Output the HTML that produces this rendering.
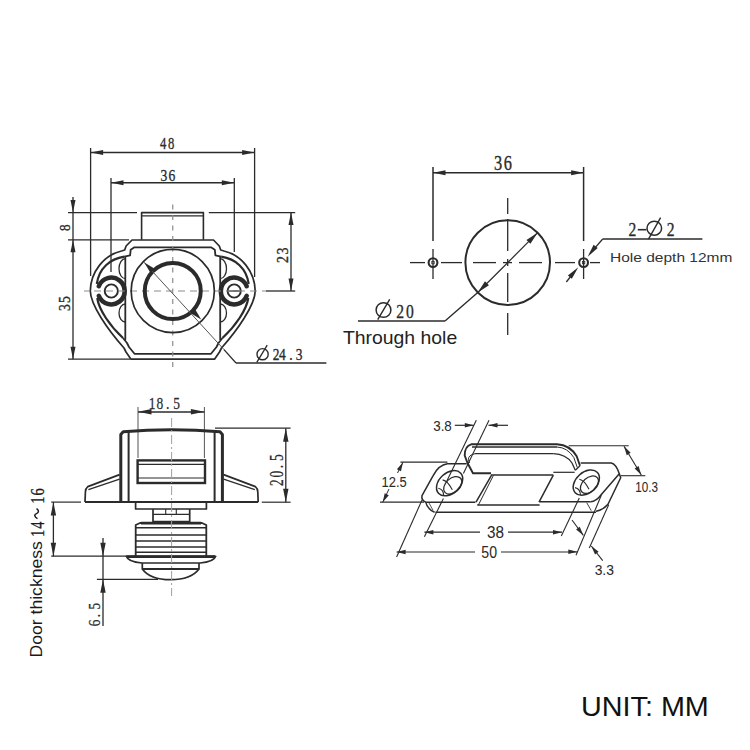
<!DOCTYPE html>
<html><head><meta charset="utf-8"><style>
html,body{margin:0;padding:0;background:#fff;}
svg{display:block;}
</style></head><body>
<svg width="750" height="750" viewBox="0 0 750 750">
<rect width="750" height="750" fill="#fff"/>
<line x1="90.60" y1="148.00" x2="90.60" y2="276.00" stroke="#2b2b2b" stroke-width="1.3" />
<line x1="254.60" y1="148.00" x2="254.60" y2="277.00" stroke="#2b2b2b" stroke-width="1.3" />
<line x1="90.60" y1="152.60" x2="254.60" y2="152.60" stroke="#2b2b2b" stroke-width="1.5" />
<polygon points="90.60,152.60 103.10,150.10 103.10,155.10" fill="#2b2b2b"/>
<polygon points="254.60,152.60 242.10,155.10 242.10,150.10" fill="#2b2b2b"/>
<text x="0" y="0" transform="translate(163.2 149.4) scale(0.8 1)" font-family="Liberation Serif" font-size="15.8" font-weight="normal" fill="#2b2b2b" text-anchor="middle" stroke="#2b2b2b" stroke-width="0.35" >4</text>
<text x="0" y="0" transform="translate(171.2 149.4) scale(0.8 1)" font-family="Liberation Serif" font-size="15.8" font-weight="normal" fill="#2b2b2b" text-anchor="middle" stroke="#2b2b2b" stroke-width="0.35" >8</text>
<line x1="111.00" y1="178.00" x2="111.00" y2="272.00" stroke="#2b2b2b" stroke-width="1.3" />
<line x1="234.30" y1="178.00" x2="234.30" y2="252.00" stroke="#2b2b2b" stroke-width="1.3" />
<line x1="111.00" y1="182.80" x2="234.30" y2="182.80" stroke="#2b2b2b" stroke-width="1.5" />
<polygon points="111.00,182.80 123.50,180.30 123.50,185.30" fill="#2b2b2b"/>
<polygon points="234.30,182.80 221.80,185.30 221.80,180.30" fill="#2b2b2b"/>
<text x="0" y="0" transform="translate(164 180.7) scale(0.8 1)" font-family="Liberation Serif" font-size="17" font-weight="normal" fill="#2b2b2b" text-anchor="middle" stroke="#2b2b2b" stroke-width="0.35" >3</text>
<text x="0" y="0" transform="translate(171.9 180.7) scale(0.8 1)" font-family="Liberation Serif" font-size="17" font-weight="normal" fill="#2b2b2b" text-anchor="middle" stroke="#2b2b2b" stroke-width="0.35" >6</text>
<line x1="68.00" y1="212.60" x2="137.00" y2="212.60" stroke="#2b2b2b" stroke-width="1.3" />
<line x1="208.80" y1="212.60" x2="295.20" y2="212.60" stroke="#2b2b2b" stroke-width="1.3" />
<line x1="68.00" y1="239.80" x2="129.00" y2="239.80" stroke="#2b2b2b" stroke-width="1.3" />
<line x1="68.00" y1="359.20" x2="130.00" y2="359.20" stroke="#2b2b2b" stroke-width="1.3" />
<line x1="266.00" y1="291.00" x2="295.20" y2="291.00" stroke="#2b2b2b" stroke-width="1.3" />
<line x1="73.00" y1="197.00" x2="73.00" y2="359.20" stroke="#2b2b2b" stroke-width="1.3" />
<polygon points="73.00,212.60 70.50,200.10 75.50,200.10" fill="#2b2b2b"/>
<polygon points="73.00,239.80 75.50,252.30 70.50,252.30" fill="#2b2b2b"/>
<polygon points="73.00,359.20 70.50,346.70 75.50,346.70" fill="#2b2b2b"/>
<text x="0" y="0" transform="translate(69.8 227.6) rotate(-90) scale(0.85 1)" font-family="Liberation Serif" font-size="15.5" font-weight="normal" fill="#2b2b2b" text-anchor="middle" stroke="#2b2b2b" stroke-width="0.35" >8</text>
<text x="0" y="0" transform="translate(70.4 307.6) rotate(-90) scale(0.8 1)" font-family="Liberation Serif" font-size="17" font-weight="normal" fill="#2b2b2b" text-anchor="middle" stroke="#2b2b2b" stroke-width="0.35" >3</text>
<text x="0" y="0" transform="translate(70.4 299.6) rotate(-90) scale(0.8 1)" font-family="Liberation Serif" font-size="17" font-weight="normal" fill="#2b2b2b" text-anchor="middle" stroke="#2b2b2b" stroke-width="0.35" >5</text>
<line x1="291.00" y1="212.60" x2="291.00" y2="291.00" stroke="#2b2b2b" stroke-width="1.3" />
<polygon points="291.00,212.60 293.50,225.10 288.50,225.10" fill="#2b2b2b"/>
<polygon points="291.00,291.00 288.50,278.50 293.50,278.50" fill="#2b2b2b"/>
<text x="0" y="0" transform="translate(287.6 259.4) rotate(-90) scale(0.8 1)" font-family="Liberation Serif" font-size="17.5" font-weight="normal" fill="#2b2b2b" text-anchor="middle" stroke="#2b2b2b" stroke-width="0.35" >2</text>
<text x="0" y="0" transform="translate(287.6 251.1) rotate(-90) scale(0.8 1)" font-family="Liberation Serif" font-size="17.5" font-weight="normal" fill="#2b2b2b" text-anchor="middle" stroke="#2b2b2b" stroke-width="0.35" >3</text>
<polyline points="141.60,239.80 141.60,212.60 203.40,212.60 203.40,239.80" fill="none" stroke="#2b2b2b" stroke-width="1.6" stroke-linejoin="round" />
<line x1="141.60" y1="215.80" x2="203.40" y2="215.80" stroke="#2b2b2b" stroke-width="1.2" />
<path d="M 132 240 L 213.5 240 L 219.3 246 L 220.7 250 L 224 251 C 241.5 255, 255 272, 255.2 291 C 255 305, 237.5 330, 221.5 348 L 219.5 352 L 214.5 359.2 L 131 359.2 L 126 352 L 124 348 C 108 330, 90.5 305, 90.3 291 C 90.5 272, 104 255, 121.5 251 L 124.7 250 L 126.1 246 Z" fill="none" stroke="#2b2b2b" stroke-width="1.7" stroke-linejoin="round" />
<path d="M 124.3 256.7 L 130.1 255.3 L 130.7 249.7 L 134.4 247.3 L 211 247.3 L 214.8 249.7 L 215.4 255.3 L 221.2 256.7" fill="none" stroke="#2b2b2b" stroke-width="1.8" stroke-linejoin="round" />
<path d="M 123 338 L 127 343 L 129 347 L 134.5 353.8 L 211 353.8 L 216.5 347 L 218.5 343 L 222.5 338" fill="none" stroke="#2b2b2b" stroke-width="1.8" stroke-linejoin="round" />
<path d="M 124.3 256.7 C 110 259, 99 268, 96.8 284" fill="none" stroke="#2b2b2b" stroke-width="2.2" stroke-linejoin="round" />
<path d="M 97.2 298 C 99 310, 110 326, 123 338" fill="none" stroke="#2b2b2b" stroke-width="2.2" stroke-linejoin="round" />
<path d="M 221.2 256.7 C 235.5 259, 246.5 268, 248.7 284" fill="none" stroke="#2b2b2b" stroke-width="2.2" stroke-linejoin="round" />
<path d="M 248.3 298 C 246.5 310, 235.5 326, 222.5 338" fill="none" stroke="#2b2b2b" stroke-width="2.2" stroke-linejoin="round" />
<line x1="125.30" y1="256.00" x2="125.30" y2="340.00" stroke="#2b2b2b" stroke-width="1.8" />
<line x1="220.20" y1="256.00" x2="220.20" y2="340.00" stroke="#2b2b2b" stroke-width="1.8" />
<path d="M 125.3 258.7 A 6.3 10 0 0 0 125.3 278.7" fill="none" stroke="#2b2b2b" stroke-width="1.3" stroke-linejoin="round" />
<path d="M 220.2 258.7 A 6.3 10 0 0 1 220.2 278.7" fill="none" stroke="#2b2b2b" stroke-width="1.3" stroke-linejoin="round" />
<path d="M 125.3 304 A 6.3 9 0 0 0 125.3 322" fill="none" stroke="#2b2b2b" stroke-width="1.3" stroke-linejoin="round" />
<path d="M 220.2 304 A 6.3 9 0 0 1 220.2 322" fill="none" stroke="#2b2b2b" stroke-width="1.3" stroke-linejoin="round" />
<path d="M 98.79 286.20 A 13.4 13.4 0 1 1 98.79 295.80" fill="none" stroke="#2b2b2b" stroke-width="4.6" stroke-linejoin="round" stroke-linecap="round"/>
<path d="M 246.71 295.80 A 13.4 13.4 0 1 1 246.71 286.20" fill="none" stroke="#2b2b2b" stroke-width="4.6" stroke-linejoin="round" stroke-linecap="round"/>
<circle cx="111.30" cy="291.00" r="6.6" fill="none" stroke="#2b2b2b" stroke-width="1.9" />
<circle cx="234.20" cy="291.00" r="6.6" fill="none" stroke="#2b2b2b" stroke-width="1.9" />
<line x1="228.50" y1="291.00" x2="240.00" y2="291.00" stroke="#2b2b2b" stroke-width="1.3" />
<line x1="172.75" y1="204.50" x2="172.75" y2="372.00" stroke="#8c8c8c" stroke-width="1.2" stroke-dasharray="5 5.5"/>
<line x1="84.00" y1="291.00" x2="266.00" y2="291.00" stroke="#8c8c8c" stroke-width="1.2" stroke-dasharray="7 5" stroke-dashoffset="2"/>
<circle cx="172.75" cy="291.00" r="41.6" fill="none" stroke="#2b2b2b" stroke-width="1.7" />
<circle cx="172.75" cy="291.00" r="28" fill="none" stroke="#2b2b2b" stroke-width="4" />
<line x1="143.76" y1="262.01" x2="224.00" y2="349.60" stroke="#555" stroke-width="1.0" />
<line x1="224.00" y1="349.60" x2="236.00" y2="363.00" stroke="#2b2b2b" stroke-width="1.3" />
<line x1="236.00" y1="363.00" x2="326.40" y2="363.00" stroke="#2b2b2b" stroke-width="1.4" />
<polygon points="144.32,262.57 150.48,272.97 154.72,268.73" fill="#2b2b2b"/>
<polygon points="201.18,319.43 190.78,313.27 195.02,309.03" fill="#2b2b2b"/>
<ellipse cx="262.6" cy="354.2" rx="5.6" ry="5.6" fill="none" stroke="#2b2b2b" stroke-width="1.4"/>
<line x1="256.80" y1="362.40" x2="267.20" y2="345.20" stroke="#2b2b2b" stroke-width="1.3" />
<text x="0" y="0" transform="translate(276 360.4) scale(0.8 1)" font-family="Liberation Serif" font-size="16.8" font-weight="normal" fill="#2b2b2b" text-anchor="middle" stroke="#2b2b2b" stroke-width="0.35" >2</text>
<text x="0" y="0" transform="translate(282.4 360.4) scale(0.8 1)" font-family="Liberation Serif" font-size="16.8" font-weight="normal" fill="#2b2b2b" text-anchor="middle" stroke="#2b2b2b" stroke-width="0.35" >4</text>
<text x="0" y="0" transform="translate(291 360.4) scale(0.8 1)" font-family="Liberation Serif" font-size="16.8" font-weight="normal" fill="#2b2b2b" text-anchor="middle" stroke="#2b2b2b" stroke-width="0.35" >.</text>
<text x="0" y="0" transform="translate(299.2 360.4) scale(0.8 1)" font-family="Liberation Serif" font-size="16.8" font-weight="normal" fill="#2b2b2b" text-anchor="middle" stroke="#2b2b2b" stroke-width="0.35" >3</text>
<line x1="433.00" y1="167.00" x2="433.00" y2="241.00" stroke="#2b2b2b" stroke-width="1.5" />
<line x1="583.60" y1="167.00" x2="583.60" y2="241.00" stroke="#2b2b2b" stroke-width="1.5" />
<line x1="433.00" y1="172.80" x2="583.60" y2="172.80" stroke="#2b2b2b" stroke-width="1.5" />
<polygon points="433.00,172.80 445.50,170.30 445.50,175.30" fill="#2b2b2b"/>
<polygon points="583.60,172.80 571.10,175.30 571.10,170.30" fill="#2b2b2b"/>
<text x="0" y="0" transform="translate(498 170.3) scale(0.78 1)" font-family="Liberation Serif" font-size="21" font-weight="normal" fill="#2b2b2b" text-anchor="middle" stroke="#2b2b2b" stroke-width="0.35" >3</text>
<text x="0" y="0" transform="translate(507.8 170.3) scale(0.78 1)" font-family="Liberation Serif" font-size="21" font-weight="normal" fill="#2b2b2b" text-anchor="middle" stroke="#2b2b2b" stroke-width="0.35" >6</text>
<line x1="433.00" y1="249.00" x2="433.00" y2="279.00" stroke="#2b2b2b" stroke-width="1.3" />
<line x1="583.60" y1="249.00" x2="583.60" y2="279.00" stroke="#2b2b2b" stroke-width="1.3" />
<line x1="410.00" y1="262.60" x2="425.00" y2="262.60" stroke="#2b2b2b" stroke-width="1.3" />
<line x1="441.00" y1="262.60" x2="462.00" y2="262.60" stroke="#2b2b2b" stroke-width="1.3" />
<line x1="473.00" y1="262.60" x2="496.00" y2="262.60" stroke="#2b2b2b" stroke-width="1.3" />
<line x1="503.00" y1="262.60" x2="512.00" y2="262.60" stroke="#2b2b2b" stroke-width="1.3" />
<line x1="519.00" y1="262.60" x2="542.00" y2="262.60" stroke="#2b2b2b" stroke-width="1.3" />
<line x1="555.00" y1="262.60" x2="575.00" y2="262.60" stroke="#2b2b2b" stroke-width="1.3" />
<line x1="590.00" y1="262.60" x2="600.00" y2="262.60" stroke="#2b2b2b" stroke-width="1.3" />
<line x1="507.70" y1="198.00" x2="507.70" y2="214.00" stroke="#2b2b2b" stroke-width="1.3" />
<line x1="507.70" y1="219.00" x2="507.70" y2="251.00" stroke="#2b2b2b" stroke-width="1.3" />
<line x1="507.70" y1="259.00" x2="507.70" y2="266.00" stroke="#2b2b2b" stroke-width="1.3" />
<line x1="507.70" y1="273.00" x2="507.70" y2="302.00" stroke="#2b2b2b" stroke-width="1.3" />
<line x1="507.70" y1="313.00" x2="507.70" y2="335.00" stroke="#2b2b2b" stroke-width="1.3" />
<circle cx="507.70" cy="262.60" r="42.3" fill="none" stroke="#2b2b2b" stroke-width="2.0" />
<circle cx="433.00" cy="262.60" r="4.4" fill="none" stroke="#2b2b2b" stroke-width="2.1" />
<circle cx="583.60" cy="262.60" r="4.4" fill="none" stroke="#2b2b2b" stroke-width="2.1" />
<rect x="431.8" y="261.4" width="2.4" height="2.4" fill="none" stroke="#2b2b2b" stroke-width="0.8"/>
<rect x="582.4" y="261.4" width="2.4" height="2.4" fill="none" stroke="#2b2b2b" stroke-width="0.8"/>
<line x1="477.79" y1="292.51" x2="537.61" y2="232.69" stroke="#2b2b2b" stroke-width="1.2" />
<polygon points="477.79,292.51 485.00,281.34 488.96,285.30" fill="#2b2b2b"/>
<polygon points="537.61,232.69 530.40,243.86 526.44,239.90" fill="#2b2b2b"/>
<line x1="477.79" y1="292.51" x2="445.00" y2="321.00" stroke="#2b2b2b" stroke-width="1.4" />
<line x1="445.00" y1="321.00" x2="358.00" y2="321.00" stroke="#2b2b2b" stroke-width="1.6" />
<ellipse cx="383.5" cy="310" rx="7.4" ry="7.3" fill="none" stroke="#2b2b2b" stroke-width="1.5"/>
<line x1="377.70" y1="319.70" x2="389.70" y2="299.30" stroke="#2b2b2b" stroke-width="1.4" />
<text x="0" y="0" transform="translate(400.2 317.7) scale(0.8 1)" font-family="Liberation Serif" font-size="19.5" font-weight="normal" fill="#2b2b2b" text-anchor="middle" stroke="#2b2b2b" stroke-width="0.35" >2</text>
<text x="0" y="0" transform="translate(409.8 317.7) scale(0.8 1)" font-family="Liberation Serif" font-size="19.5" font-weight="normal" fill="#2b2b2b" text-anchor="middle" stroke="#2b2b2b" stroke-width="0.35" >0</text>
<text x="342.9" y="343.9" font-family="Liberation Sans" font-size="19" font-weight="normal" fill="#222" text-anchor="start" textLength="114.30" lengthAdjust="spacingAndGlyphs" >Through hole</text>
<polygon points="587.70,256.70 593.59,244.82 597.70,248.00" fill="#2b2b2b"/>
<line x1="590.00" y1="253.60" x2="602.70" y2="239.00" stroke="#2b2b2b" stroke-width="1.3" />
<line x1="602.70" y1="239.00" x2="702.40" y2="239.00" stroke="#2b2b2b" stroke-width="1.6" />
<polygon points="578.30,267.30 571.83,278.87 567.87,275.49" fill="#2b2b2b"/>
<line x1="575.00" y1="271.00" x2="566.30" y2="282.00" stroke="#2b2b2b" stroke-width="1.3" />
<text x="0" y="0" transform="translate(632.5 235.5) scale(0.8 1)" font-family="Liberation Serif" font-size="19.5" font-weight="normal" fill="#2b2b2b" text-anchor="middle" stroke="#2b2b2b" stroke-width="0.35" >2</text>
<line x1="637.80" y1="229.70" x2="646.30" y2="229.70" stroke="#2b2b2b" stroke-width="1.6" />
<ellipse cx="654.3" cy="228.2" rx="7.3" ry="7" fill="none" stroke="#2b2b2b" stroke-width="1.5"/>
<line x1="648.50" y1="239.20" x2="660.60" y2="217.60" stroke="#2b2b2b" stroke-width="1.4" />
<text x="0" y="0" transform="translate(670.6 235.5) scale(0.8 1)" font-family="Liberation Serif" font-size="19.5" font-weight="normal" fill="#2b2b2b" text-anchor="middle" stroke="#2b2b2b" stroke-width="0.35" >2</text>
<text x="610" y="262" font-family="Liberation Sans" font-size="13.4" font-weight="normal" fill="#333" text-anchor="start" textLength="122.40" lengthAdjust="spacingAndGlyphs" >Hole depth 12mm</text>
<line x1="138.00" y1="407.00" x2="138.00" y2="458.00" stroke="#555" stroke-width="1.0" />
<line x1="204.40" y1="407.00" x2="204.40" y2="458.00" stroke="#555" stroke-width="1.0" />
<line x1="138.00" y1="412.00" x2="204.40" y2="412.00" stroke="#2b2b2b" stroke-width="1.3" />
<polygon points="138.00,411.80 151.50,409.10 151.50,414.50" fill="#2b2b2b"/>
<polygon points="204.40,411.80 190.90,414.50 190.90,409.10" fill="#2b2b2b"/>
<text x="0" y="0" transform="translate(152 408.8) scale(0.8 1)" font-family="Liberation Serif" font-size="16.8" font-weight="normal" fill="#2b2b2b" text-anchor="middle" stroke="#2b2b2b" stroke-width="0.25" >1</text>
<text x="0" y="0" transform="translate(159.8 408.8) scale(0.8 1)" font-family="Liberation Serif" font-size="16.8" font-weight="normal" fill="#2b2b2b" text-anchor="middle" stroke="#2b2b2b" stroke-width="0.25" >8</text>
<text x="0" y="0" transform="translate(167.6 408.8) scale(0.8 1)" font-family="Liberation Serif" font-size="16.8" font-weight="normal" fill="#2b2b2b" text-anchor="middle" stroke="#2b2b2b" stroke-width="0.25" >.</text>
<text x="0" y="0" transform="translate(176.6 408.8) scale(0.8 1)" font-family="Liberation Serif" font-size="16.8" font-weight="normal" fill="#2b2b2b" text-anchor="middle" stroke="#2b2b2b" stroke-width="0.25" >5</text>
<path d="M 120.8 502 L 120.8 434.5 L 123.2 431.8 Q 171.6 427.5 220 431.8 L 222.4 434.5 L 222.4 502" fill="none" stroke="#2b2b2b" stroke-width="3.0" stroke-linejoin="round" />
<line x1="128.60" y1="432.00" x2="128.60" y2="502.00" stroke="#2b2b2b" stroke-width="2.0" />
<line x1="214.60" y1="432.00" x2="214.60" y2="502.00" stroke="#2b2b2b" stroke-width="2.0" />
<rect x="137.6" y="460.4" width="67.4" height="22.6" fill="none" stroke="#2b2b2b" stroke-width="2.4"/>
<line x1="137.60" y1="464.40" x2="205.00" y2="464.40" stroke="#2b2b2b" stroke-width="1.2" />
<line x1="137.60" y1="478.00" x2="205.00" y2="478.00" stroke="#2b2b2b" stroke-width="1.2" />
<path d="M 119.6 474.6 L 87.8 486.6 Q 85.4 488.5 85.4 492 L 85 502" fill="none" stroke="#2b2b2b" stroke-width="1.7" stroke-linejoin="round" />
<line x1="119.60" y1="479.20" x2="88.40" y2="489.60" stroke="#2b2b2b" stroke-width="1.3" />
<path d="M 223.6 474.6 L 255.4 486.6 Q 257.8 488.5 257.8 492 L 258.2 502" fill="none" stroke="#2b2b2b" stroke-width="1.7" stroke-linejoin="round" />
<line x1="223.60" y1="479.20" x2="254.80" y2="489.60" stroke="#2b2b2b" stroke-width="1.3" />
<line x1="85.00" y1="502.10" x2="258.20" y2="502.10" stroke="#2b2b2b" stroke-width="2.0" />
<line x1="215.00" y1="428.20" x2="290.60" y2="428.20" stroke="#2b2b2b" stroke-width="1.2" />
<line x1="261.80" y1="502.20" x2="290.60" y2="502.20" stroke="#2b2b2b" stroke-width="1.2" />
<line x1="285.80" y1="428.20" x2="285.80" y2="502.20" stroke="#2b2b2b" stroke-width="1.3" />
<polygon points="285.80,428.20 288.50,441.70 283.10,441.70" fill="#2b2b2b"/>
<polygon points="285.80,502.20 283.10,488.70 288.50,488.70" fill="#2b2b2b"/>
<text x="0" y="0" transform="translate(282.6 482.7) rotate(-90) scale(0.75 1)" font-family="Liberation Serif" font-size="17.8" font-weight="normal" fill="#2b2b2b" text-anchor="middle" stroke="#2b2b2b" stroke-width="0.25" >2</text>
<text x="0" y="0" transform="translate(282.6 474.1) rotate(-90) scale(0.75 1)" font-family="Liberation Serif" font-size="17.8" font-weight="normal" fill="#2b2b2b" text-anchor="middle" stroke="#2b2b2b" stroke-width="0.25" >0</text>
<text x="0" y="0" transform="translate(282.6 466.7) rotate(-90) scale(0.75 1)" font-family="Liberation Serif" font-size="17.8" font-weight="normal" fill="#2b2b2b" text-anchor="middle" stroke="#2b2b2b" stroke-width="0.25" >.</text>
<text x="0" y="0" transform="translate(282.6 457.6) rotate(-90) scale(0.75 1)" font-family="Liberation Serif" font-size="17.8" font-weight="normal" fill="#2b2b2b" text-anchor="middle" stroke="#2b2b2b" stroke-width="0.25" >5</text>
<polyline points="135.60,502.00 135.60,509.00 206.40,509.00 206.40,502.00" fill="none" stroke="#2b2b2b" stroke-width="1.7" stroke-linejoin="round" />
<polyline points="153.00,509.00 153.00,521.70 189.70,521.70 189.70,509.00" fill="none" stroke="#2b2b2b" stroke-width="1.7" stroke-linejoin="round" />
<line x1="153.00" y1="514.30" x2="189.70" y2="514.30" stroke="#2b2b2b" stroke-width="1.2" />
<line x1="165.70" y1="509.00" x2="165.70" y2="514.30" stroke="#2b2b2b" stroke-width="1.1" />
<line x1="176.30" y1="509.00" x2="176.30" y2="514.30" stroke="#2b2b2b" stroke-width="1.1" />
<polyline points="135.70,556.00 135.70,525.00 140.00,523.00 202.00,523.00 206.30,525.00 206.30,556.00" fill="none" stroke="#2b2b2b" stroke-width="1.8" stroke-linejoin="round" />
<line x1="141.00" y1="523.20" x2="201.00" y2="523.20" stroke="#2b2b2b" stroke-width="2.8" />
<line x1="135.70" y1="527.70" x2="206.30" y2="527.70" stroke="#2b2b2b" stroke-width="1.5" />
<line x1="135.70" y1="535.00" x2="206.30" y2="535.00" stroke="#2b2b2b" stroke-width="1.5" />
<line x1="135.70" y1="541.00" x2="206.30" y2="541.00" stroke="#2b2b2b" stroke-width="1.5" />
<line x1="135.70" y1="547.00" x2="206.30" y2="547.00" stroke="#2b2b2b" stroke-width="1.5" />
<line x1="135.70" y1="552.30" x2="206.30" y2="552.30" stroke="#2b2b2b" stroke-width="1.5" />
<path d="M 126.3 556.3 L 215.7 556.3 Q 214 562 200 563 L 142 563 Q 128 562 126.3 556.3 Z" fill="none" stroke="#2b2b2b" stroke-width="1.7" stroke-linejoin="round" />
<line x1="127.00" y1="556.60" x2="215.00" y2="556.60" stroke="#2b2b2b" stroke-width="2.8" />
<polyline points="142.30,563.00 142.30,569.00 199.00,569.00 199.00,563.00" fill="none" stroke="#2b2b2b" stroke-width="1.7" stroke-linejoin="round" />
<line x1="142.30" y1="569.00" x2="199.00" y2="569.00" stroke="#2b2b2b" stroke-width="2.2" />
<path d="M 142.3 569 Q 150 579.7 170.6 579.7 Q 191 579.7 199 569" fill="none" stroke="#2b2b2b" stroke-width="1.7" stroke-linejoin="round" />
<line x1="171.60" y1="418.00" x2="171.60" y2="596.00" stroke="#a0a0a0" stroke-width="1.0" stroke-dasharray="9 3 2 3"/>
<line x1="51.20" y1="556.20" x2="127.00" y2="556.20" stroke="#2b2b2b" stroke-width="1.2" />
<line x1="96.90" y1="579.30" x2="158.00" y2="579.30" stroke="#2b2b2b" stroke-width="1.2" />
<line x1="103.00" y1="538.00" x2="103.00" y2="626.00" stroke="#2b2b2b" stroke-width="1.3" />
<polygon points="103.00,556.20 100.30,542.70 105.70,542.70" fill="#2b2b2b"/>
<polygon points="103.00,579.30 105.70,592.80 100.30,592.80" fill="#2b2b2b"/>
<text x="0" y="0" transform="translate(100 623) rotate(-90) scale(0.75 1)" font-family="Liberation Serif" font-size="17.5" font-weight="normal" fill="#2b2b2b" text-anchor="middle" stroke="#2b2b2b" stroke-width="0.25" >6</text>
<text x="0" y="0" transform="translate(100 615.5) rotate(-90) scale(0.75 1)" font-family="Liberation Serif" font-size="17.5" font-weight="normal" fill="#2b2b2b" text-anchor="middle" stroke="#2b2b2b" stroke-width="0.25" >.</text>
<text x="0" y="0" transform="translate(100 606.2) rotate(-90) scale(0.75 1)" font-family="Liberation Serif" font-size="17.5" font-weight="normal" fill="#2b2b2b" text-anchor="middle" stroke="#2b2b2b" stroke-width="0.25" >5</text>
<line x1="51.20" y1="502.10" x2="81.00" y2="502.10" stroke="#2b2b2b" stroke-width="1.2" />
<line x1="53.40" y1="502.10" x2="53.40" y2="556.20" stroke="#2b2b2b" stroke-width="1.3" />
<polygon points="53.40,502.10 56.10,515.60 50.70,515.60" fill="#2b2b2b"/>
<polygon points="53.40,556.20 50.70,542.70 56.10,542.70" fill="#2b2b2b"/>
<text x="0" y="0" transform="translate(42.2 657.4) rotate(-90)" font-family="Liberation Sans" font-size="16.5" font-weight="normal" fill="#1a1a1a" text-anchor="start" textLength="116.20" lengthAdjust="spacingAndGlyphs" >Door thickness</text>
<text x="0" y="0" transform="translate(43.8 533.4) rotate(-90) scale(0.78 1)" font-family="Liberation Serif" font-size="18.5" font-weight="normal" fill="#1a1a1a" text-anchor="middle" stroke="#1a1a1a" stroke-width="0.3" >1</text>
<text x="0" y="0" transform="translate(43.8 525.2) rotate(-90) scale(0.78 1)" font-family="Liberation Serif" font-size="18.5" font-weight="normal" fill="#1a1a1a" text-anchor="middle" stroke="#1a1a1a" stroke-width="0.3" >4</text>
<text x="0" y="0" transform="translate(43.8 500.2) rotate(-90) scale(0.78 1)" font-family="Liberation Serif" font-size="18.5" font-weight="normal" fill="#1a1a1a" text-anchor="middle" stroke="#1a1a1a" stroke-width="0.3" >1</text>
<text x="0" y="0" transform="translate(43.8 491.8) rotate(-90) scale(0.78 1)" font-family="Liberation Serif" font-size="18.5" font-weight="normal" fill="#1a1a1a" text-anchor="middle" stroke="#1a1a1a" stroke-width="0.3" >6</text>
<path d="M 37.5 518.6 C 34.5 517, 33.8 514.5, 36.5 513.6 C 39.2 512.7, 39 510, 36.5 508.6" fill="none" stroke="#1a1a1a" stroke-width="1.5" stroke-linejoin="round" />
<text x="442.5" y="431" font-family="Liberation Sans" font-size="15" font-weight="normal" fill="#2a2a2a" text-anchor="middle" textLength="18.60" lengthAdjust="spacingAndGlyphs" stroke="#2a2a2a" stroke-width="0.05" >3.8</text>
<line x1="454.80" y1="425.30" x2="473.80" y2="425.30" stroke="#2b2b2b" stroke-width="1.2" />
<polygon points="473.80,425.30 464.80,427.60 464.80,423.00" fill="#2b2b2b"/>
<line x1="488.50" y1="425.30" x2="508.00" y2="425.30" stroke="#2b2b2b" stroke-width="1.2" />
<polygon points="488.50,425.30 497.50,423.00 497.50,427.60" fill="#2b2b2b"/>
<line x1="476.30" y1="420.30" x2="446.60" y2="481.40" stroke="#2b2b2b" stroke-width="1.1" />
<line x1="489.00" y1="420.30" x2="463.40" y2="473.40" stroke="#2b2b2b" stroke-width="1.1" />
<line x1="400.40" y1="462.20" x2="447.40" y2="462.20" stroke="#2b2b2b" stroke-width="1.2" />
<line x1="380.00" y1="502.20" x2="424.00" y2="502.20" stroke="#2b2b2b" stroke-width="1.2" />
<line x1="403.00" y1="462.20" x2="397.50" y2="473.00" stroke="#2b2b2b" stroke-width="1.0" />
<line x1="389.00" y1="489.00" x2="382.70" y2="502.20" stroke="#2b2b2b" stroke-width="1.0" />
<polygon points="403.00,462.20 400.99,471.27 396.89,469.19" fill="#2b2b2b"/>
<polygon points="382.70,502.20 384.71,493.13 388.81,495.21" fill="#2b2b2b"/>
<text x="394.2" y="486.8" font-family="Liberation Sans" font-size="15" font-weight="normal" fill="#2a2a2a" text-anchor="middle" textLength="25.20" lengthAdjust="spacingAndGlyphs" stroke="#2a2a2a" stroke-width="0.05" >12.5</text>
<path d="M 466.6 463.8 L 447.4 463.8 Q 438.6 465 433 475.8 L 422 495.6 Q 421 500 425.8 502.2" fill="none" stroke="#2b2b2b" stroke-width="1.5" stroke-linejoin="round" />
<line x1="425.80" y1="502.20" x2="475.40" y2="502.20" stroke="#2b2b2b" stroke-width="1.5" />
<line x1="539.60" y1="501.80" x2="590.70" y2="501.80" stroke="#2b2b2b" stroke-width="1.5" />
<line x1="435.40" y1="512.20" x2="596.00" y2="512.20" stroke="#2b2b2b" stroke-width="1.5" />
<path d="M 425.8 502.2 Q 427 509 434.6 512.2" fill="none" stroke="#2b2b2b" stroke-width="1.5" stroke-linejoin="round" />
<line x1="429.00" y1="503.00" x2="433.00" y2="510.20" stroke="#2b2b2b" stroke-width="0.8" />
<ellipse cx="449.6" cy="483.2" rx="15" ry="10.3" transform="rotate(-42 449.6 483.2)" fill="none" stroke="#2b2b2b" stroke-width="1.5"/>
<ellipse cx="452.80" cy="485.30" rx="10.5" ry="7" transform="rotate(-42 452.80 485.30)" fill="none" stroke="#2b2b2b" stroke-width="1.2"/>
<path d="M 442.60 479.90 Q 447.60 480.70 452.30 489.80" fill="none" stroke="#2b2b2b" stroke-width="1.1" stroke-linejoin="round" />
<path d="M 438.30 488.20 Q 443.60 489.20 443.70 495.70" fill="none" stroke="#2b2b2b" stroke-width="1.1" stroke-linejoin="round" />
<ellipse cx="586.3" cy="482.6" rx="15" ry="10.3" transform="rotate(-42 586.3 482.6)" fill="none" stroke="#2b2b2b" stroke-width="1.5"/>
<ellipse cx="589.50" cy="484.70" rx="10.5" ry="7" transform="rotate(-42 589.50 484.70)" fill="none" stroke="#2b2b2b" stroke-width="1.2"/>
<path d="M 579.30 479.30 Q 584.30 480.10 589.00 489.20" fill="none" stroke="#2b2b2b" stroke-width="1.1" stroke-linejoin="round" />
<path d="M 575.00 487.60 Q 580.30 488.60 580.40 495.10" fill="none" stroke="#2b2b2b" stroke-width="1.1" stroke-linejoin="round" />
<line x1="443.40" y1="498.60" x2="424.40" y2="536.70" stroke="#2b2b2b" stroke-width="1.1" />
<path d="M 557 444.3 L 471.2 444.3 Q 464.7 446 464.7 455.5 L 467.5 463 L 473 473.3 L 491 473.3" fill="none" stroke="#2b2b2b" stroke-width="1.9" stroke-linejoin="round" />
<line x1="472.00" y1="447.00" x2="557.00" y2="447.00" stroke="#2b2b2b" stroke-width="1.3" />
<line x1="475.00" y1="453.70" x2="553.30" y2="453.70" stroke="#2b2b2b" stroke-width="1.3" />
<path d="M 475 453.7 Q 468.4 455 468.4 459.3 L 469.5 463" fill="none" stroke="#2b2b2b" stroke-width="1.0" stroke-linejoin="round" />
<path d="M 557 444.3 Q 570 445 576.7 456.3 L 580 465.7" fill="none" stroke="#2b2b2b" stroke-width="1.9" stroke-linejoin="round" />
<path d="M 557 447 Q 567.5 447.5 573.8 457.5 L 577.3 467.5" fill="none" stroke="#2b2b2b" stroke-width="1.0" stroke-linejoin="round" />
<path d="M 553.3 453.7 Q 566 454.3 572 463 L 575.3 470.3" fill="none" stroke="#2b2b2b" stroke-width="1.3" stroke-linejoin="round" />
<line x1="575.30" y1="470.30" x2="580.00" y2="465.70" stroke="#2b2b2b" stroke-width="1.2" />
<line x1="491.00" y1="475.10" x2="553.30" y2="475.10" stroke="#2b2b2b" stroke-width="1.5" />
<line x1="491.60" y1="475.10" x2="476.00" y2="502.20" stroke="#2b2b2b" stroke-width="1.5" />
<line x1="493.40" y1="475.50" x2="478.40" y2="505.00" stroke="#2b2b2b" stroke-width="1.0" />
<line x1="477.20" y1="505.00" x2="539.60" y2="505.00" stroke="#2b2b2b" stroke-width="1.5" />
<line x1="553.30" y1="475.10" x2="539.00" y2="502.20" stroke="#2b2b2b" stroke-width="1.5" />
<line x1="553.30" y1="472.30" x2="574.70" y2="472.30" stroke="#2b2b2b" stroke-width="1.2" />
<path d="M 580.7 463 L 611.3 463 Q 616 464 619.3 473.7 L 602 493.7 Q 596 501.7 590.7 501.7" fill="none" stroke="#2b2b2b" stroke-width="1.5" stroke-linejoin="round" />
<path d="M 619.3 473.7 L 620.7 477.7 L 608 504.3 Q 603 510 596 511.3" fill="none" stroke="#2b2b2b" stroke-width="1.5" stroke-linejoin="round" />
<line x1="586.70" y1="502.70" x2="591.30" y2="510.70" stroke="#2b2b2b" stroke-width="0.9" />
<line x1="568.70" y1="445.70" x2="628.70" y2="445.70" stroke="#2b2b2b" stroke-width="1.1" />
<line x1="620.70" y1="475.70" x2="645.30" y2="475.70" stroke="#2b2b2b" stroke-width="1.1" />
<line x1="624.00" y1="446.30" x2="641.30" y2="475.00" stroke="#2b2b2b" stroke-width="1.1" />
<polygon points="624.00,446.30 630.66,452.78 626.73,455.18" fill="#2b2b2b"/>
<polygon points="641.30,475.00 634.64,468.52 638.57,466.12" fill="#2b2b2b"/>
<text x="646.6" y="491.6" font-family="Liberation Sans" font-size="15" font-weight="normal" fill="#2a2a2a" text-anchor="middle" textLength="22.70" lengthAdjust="spacingAndGlyphs" stroke="#2a2a2a" stroke-width="0.05" >10.3</text>
<line x1="579.30" y1="498.00" x2="561.30" y2="536.00" stroke="#2b2b2b" stroke-width="1.1" />
<line x1="424.40" y1="532.20" x2="480.00" y2="532.20" stroke="#2b2b2b" stroke-width="1.2" />
<line x1="508.00" y1="532.20" x2="562.00" y2="532.20" stroke="#2b2b2b" stroke-width="1.2" />
<polygon points="424.40,532.20 433.40,529.90 433.40,534.50" fill="#2b2b2b"/>
<polygon points="562.00,532.20 553.00,534.50 553.00,529.90" fill="#2b2b2b"/>
<text x="495.5" y="538" font-family="Liberation Sans" font-size="15.8" font-weight="normal" fill="#2a2a2a" text-anchor="middle" textLength="17.00" lengthAdjust="spacingAndGlyphs" stroke="#2a2a2a" stroke-width="0.05" >38</text>
<line x1="422.00" y1="500.00" x2="396.60" y2="557.00" stroke="#2b2b2b" stroke-width="1.1" />
<line x1="601.30" y1="495.30" x2="576.00" y2="555.30" stroke="#2b2b2b" stroke-width="1.1" />
<line x1="608.70" y1="504.70" x2="589.30" y2="548.00" stroke="#2b2b2b" stroke-width="1.1" />
<line x1="396.60" y1="552.00" x2="475.00" y2="552.00" stroke="#2b2b2b" stroke-width="1.2" />
<line x1="501.00" y1="552.00" x2="577.30" y2="552.00" stroke="#2b2b2b" stroke-width="1.2" />
<polygon points="396.60,552.00 405.60,549.70 405.60,554.30" fill="#2b2b2b"/>
<polygon points="577.30,551.80 568.30,554.10 568.30,549.50" fill="#2b2b2b"/>
<text x="489.2" y="557.7" font-family="Liberation Sans" font-size="16.2" font-weight="normal" fill="#2a2a2a" text-anchor="middle" textLength="15.70" lengthAdjust="spacingAndGlyphs" stroke="#2a2a2a" stroke-width="0.05" >50</text>
<line x1="572.00" y1="520.00" x2="583.30" y2="535.30" stroke="#2b2b2b" stroke-width="1.1" />
<polygon points="583.30,535.30 576.06,529.48 579.74,526.72" fill="#2b2b2b"/>
<line x1="602.70" y1="560.70" x2="591.30" y2="546.00" stroke="#2b2b2b" stroke-width="1.1" />
<polygon points="591.30,546.00 598.65,551.69 595.02,554.51" fill="#2b2b2b"/>
<text x="604.3" y="574.7" font-family="Liberation Sans" font-size="15" font-weight="normal" fill="#2a2a2a" text-anchor="middle" textLength="19.30" lengthAdjust="spacingAndGlyphs" stroke="#2a2a2a" stroke-width="0.05" >3.3</text>
<text x="581.0" y="716.2" font-family="Liberation Sans" font-size="27.5" font-weight="normal" fill="#111" text-anchor="start" textLength="127.80" lengthAdjust="spacingAndGlyphs" >UNIT: MM</text>
</svg></body></html>
